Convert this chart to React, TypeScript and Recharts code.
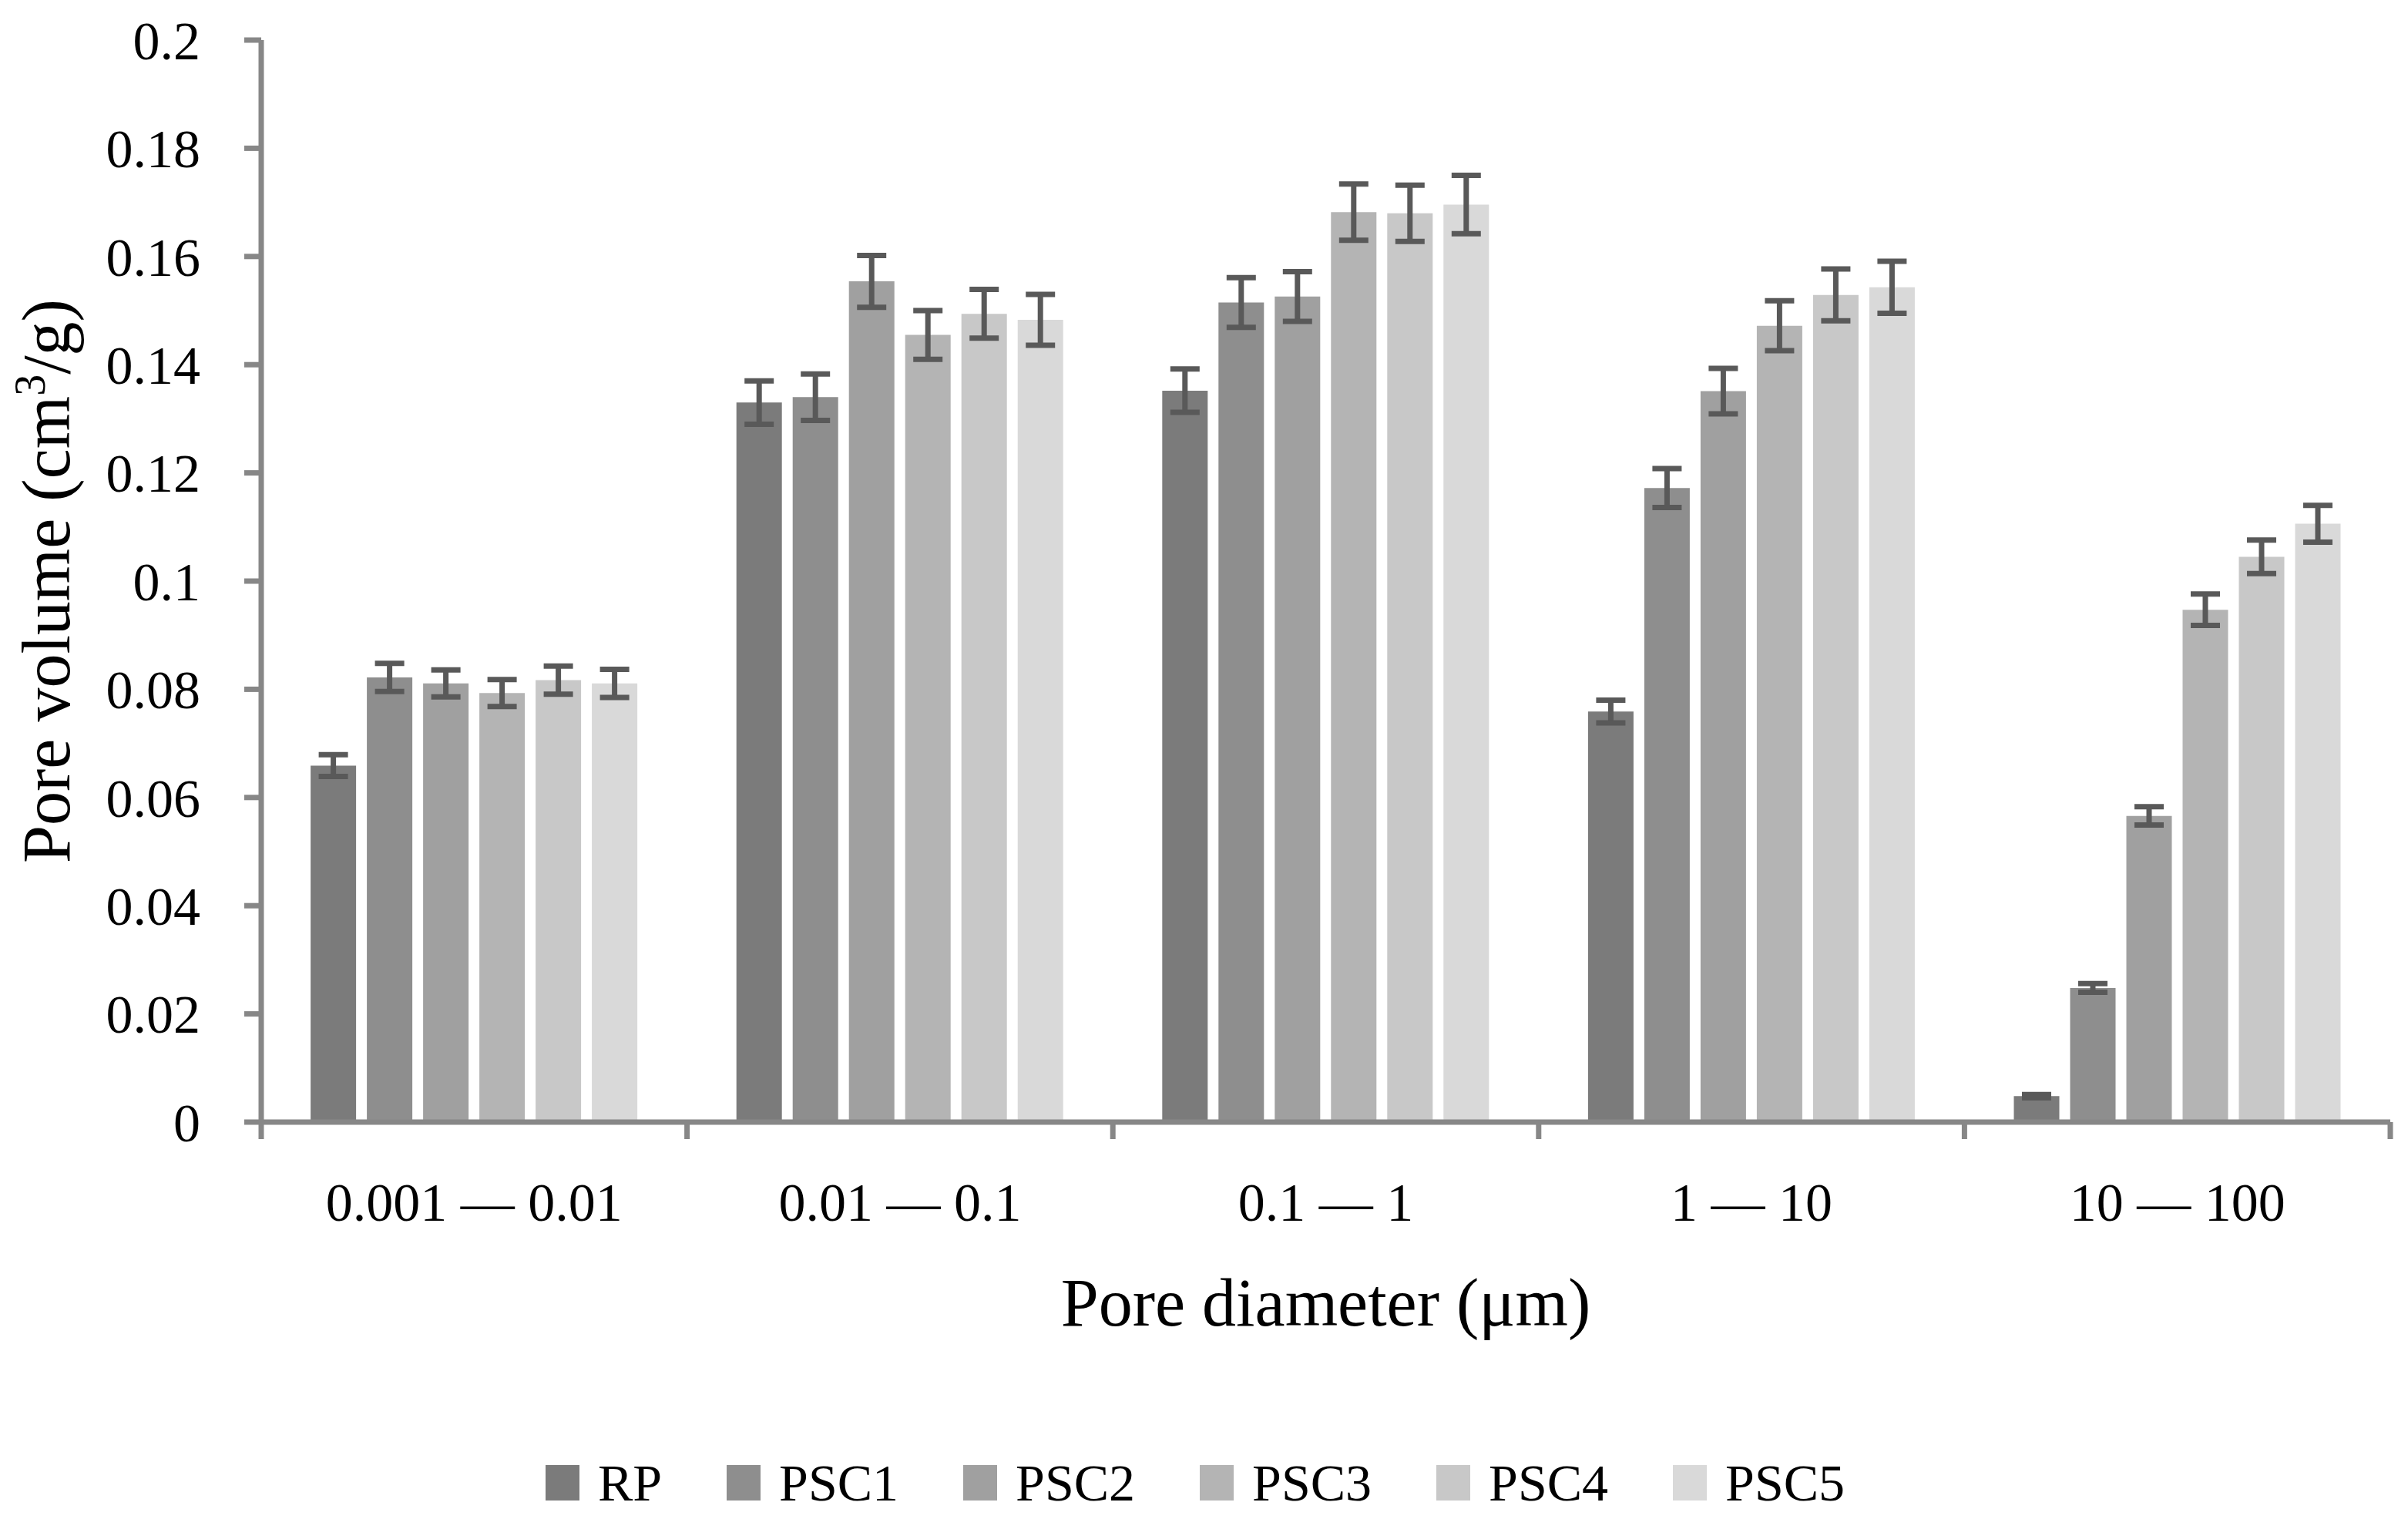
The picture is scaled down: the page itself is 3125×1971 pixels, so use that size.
import React from 'react';
import { BarChart, Bar, XAxis, YAxis, ErrorBar, Legend, Label } from 'recharts';

// pore diameter ranges (µm)
const CATEGORIES = ['0.001 — 0.01', '0.01 — 0.1', '0.1 — 1', '1 — 10', '10 — 100'];
const SERIES = ['RP', 'PSC1', 'PSC2', 'PSC3', 'PSC4', 'PSC5'];
const COLORS = ['#7b7b7b', '#8e8e8e', '#a0a0a0', '#b4b4b4', '#c8c8c8', '#d9d9d9'];

// pore volume (cm3/g) and error
const RP = [0.0659, 0.133, 0.1352, 0.0759, 0.0048];
const RP_ERR = [0.002, 0.004, 0.004, 0.0021, 0.0003];
const PSC1 = [0.0822, 0.134, 0.1515, 0.1172, 0.0248];
const PSC1_ERR = [0.0026, 0.0043, 0.0046, 0.0036, 0.0008];
const PSC2 = [0.0811, 0.1554, 0.1526, 0.1351, 0.0566];
const PSC2_ERR = [0.0025, 0.0048, 0.0046, 0.0042, 0.0017];
const PSC3 = [0.0793, 0.1455, 0.1682, 0.1472, 0.0947];
const PSC3_ERR = [0.0025, 0.0045, 0.0052, 0.0046, 0.0029];
const PSC4 = [0.0817, 0.1494, 0.168, 0.1529, 0.1045];
const PSC4_ERR = [0.0026, 0.0045, 0.0052, 0.0048, 0.0031];
const PSC5 = [0.0811, 0.1483, 0.1696, 0.1543, 0.1106];
const PSC5_ERR = [0.0026, 0.0047, 0.0054, 0.0048, 0.0034];

const Y_TICKS = [0, 0.02, 0.04, 0.06, 0.08, 0.1, 0.12, 0.14, 0.16, 0.18, 0.2];

const VALUES = [RP, PSC1, PSC2, PSC3, PSC4, PSC5];
const ERRORS = [RP_ERR, PSC1_ERR, PSC2_ERR, PSC3_ERR, PSC4_ERR, PSC5_ERR];

const data = CATEGORIES.map((range, i) => {
  const row: Record<string, string | number> = { range };
  SERIES.forEach((s, k) => {
    row[s] = VALUES[k][i];
    row[s + '_err'] = ERRORS[k][i];
  });
  return row;
});

const FONT = '"Liberation Serif", "Times New Roman", serif';
const AXIS = '#878787';
const AXIS_W = 7;
const TICK = 22;

const RangeTick = (props: any) => {
  const { x, y, payload, index } = props;
  const half = payload && payload.offset ? payload.offset : 276;
  const last = index === CATEGORIES.length - 1;
  return (
    <g>
      <line x1={x - half} x2={x - half} y1={y - TICK} y2={y} stroke={AXIS} strokeWidth={AXIS_W} />
      {last && <line x1={x + half} x2={x + half} y1={y - TICK} y2={y} stroke={AXIS} strokeWidth={AXIS_W} />}
      <text x={x} y={y + 106} textAnchor="middle" fontFamily={FONT} fontSize={70} fill="#000">
        {payload.value}
      </text>
    </g>
  );
};

const XTitle = (props: any) => {
  const vb = props.viewBox || {};
  return (
    <text x={vb.x + vb.width / 2} y={vb.y + 264} textAnchor="middle" fontFamily={FONT} fontSize={88} fill="#000">
      Pore diameter (μm)
    </text>
  );
};

const YTitle = (props: any) => {
  const vb = props.viewBox || {};
  const cx = vb.x + 90;
  const cy = vb.y + vb.height / 2;
  return (
    <text x={cx} y={cy} transform={`rotate(-90 ${cx} ${cy})`} textAnchor="middle" fontFamily={FONT} fontSize={88} fill="#000">
      Pore volume (cm
      <tspan fontSize={56} dy={-32}>3</tspan>
      <tspan dy={32}>/g)</tspan>
    </text>
  );
};

const LegendContent = (props: any) => {
  const items = [...(props.payload || [])].sort(
    (a: any, b: any) => SERIES.indexOf(a.value) - SERIES.indexOf(b.value)
  );
  return (
    <div style={{ display: 'flex', justifyContent: 'center', alignItems: 'center', height: 70 }}>
      {items.map((p: any, i: number) => (
        <div
          key={p.value}
          style={{ display: 'flex', alignItems: 'center', marginRight: i === items.length - 1 ? 0 : 84 }}
        >
          <div style={{ width: 44, height: 46, background: p.color, marginRight: 24 }} />
          <span style={{ fontFamily: FONT, fontSize: 68, color: '#000', lineHeight: '70px' }}>{p.value}</span>
        </div>
      ))}
    </div>
  );
};

export default function App() {
  return (
    <div style={{ position: 'absolute', left: 0, top: 0, background: '#fff' }}>
      <BarChart
        width={3125}
        height={1971}
        data={data}
        margin={{ top: 52, right: 23, bottom: 12, left: 0 }}
        barCategoryGap="11.6%"
        barGap={14}
      >
        <XAxis
          dataKey="range"
          interval={0}
          height={433}
          tickLine={false}
          tickSize={TICK}
          tickMargin={0}
          axisLine={{ stroke: AXIS, strokeWidth: AXIS_W }}
          tick={<RangeTick />}
        >
          <Label content={XTitle} />
        </XAxis>
        <XAxis
          xAxisId="top"
          orientation="top"
          dataKey="range"
          height={0}
          tick={false}
          tickLine={false}
          axisLine={{ stroke: AXIS, strokeWidth: AXIS_W }}
        />
        <YAxis
          width={339}
          domain={[0, 0.2]}
          ticks={Y_TICKS}
          interval={0}
          tickSize={TICK}
          tickMargin={57}
          axisLine={{ stroke: AXIS, strokeWidth: AXIS_W }}
          tickLine={{ stroke: AXIS, strokeWidth: AXIS_W }}
          tick={{ fontSize: 70, fill: '#000', fontFamily: FONT }}
        >
          <Label content={YTitle} />
        </YAxis>
        <YAxis
          yAxisId="right"
          orientation="right"
          width={0}
          domain={[0, 0.2]}
          tick={false}
          tickLine={false}
          axisLine={{ stroke: AXIS, strokeWidth: AXIS_W }}
        />
        <Legend verticalAlign="bottom" align="center" content={<LegendContent />} wrapperStyle={{ height: 70 }} />
        {SERIES.map((s, k) => (
          <Bar key={s} dataKey={s} name={s} fill={COLORS[k]} isAnimationActive={false}>
            <ErrorBar dataKey={s + '_err'} width={19} strokeWidth={7} stroke="#595959" isAnimationActive={false} />
          </Bar>
        ))}
      </BarChart>
    </div>
  );
}
